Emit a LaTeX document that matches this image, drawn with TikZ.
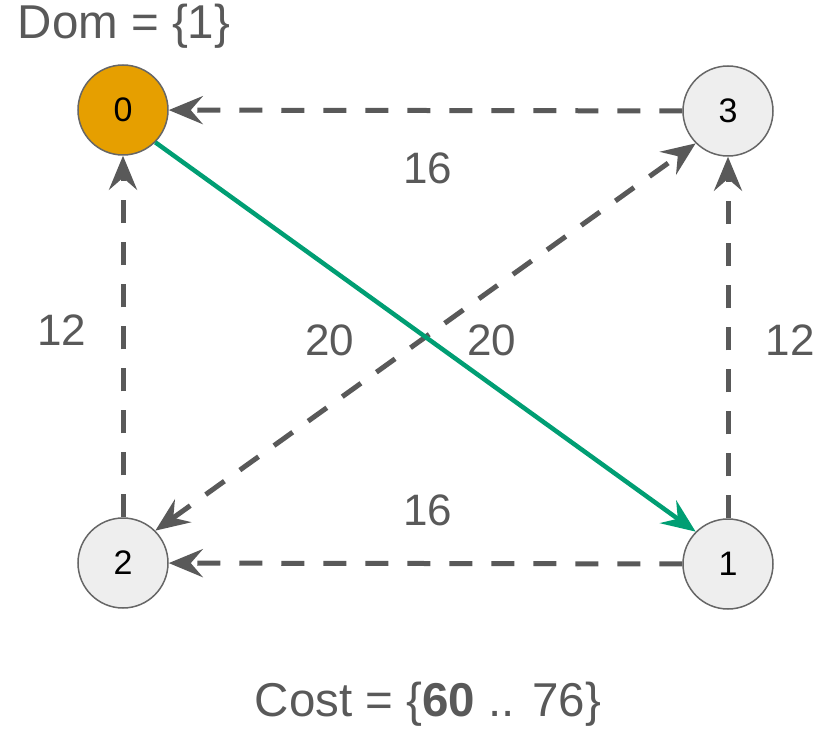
\documentclass[tikz,border=0pt]{standalone}
\usepackage{fontspec}
\setmainfont{Liberation Sans}
\usetikzlibrary{arrows.meta}
\definecolor{edgegray}{HTML}{595959}
\definecolor{nodefill}{HTML}{EEEEEE}
\definecolor{nodeline}{HTML}{666666}
\definecolor{domorange}{HTML}{E69F00}
\definecolor{pathgreen}{HTML}{009E73}
\tikzset{
  tip/.tip={Stealth[length=34pt,width=28pt,inset=12pt]},
  vertex/.style={circle, draw=nodeline, line width=1.5pt, fill=nodefill, minimum size=90pt, inner sep=0pt, font=\fontsize{34}{40}\selectfont, text=black},
  dashedge/.style={draw=edgegray, line width=5pt, dash pattern=on 23pt off 19pt, -tip},
  greenedge/.style={draw=pathgreen, line width=4.5pt, -tip},
  weight/.style={text=edgegray, font=\fontsize{44}{50}\selectfont, inner sep=0pt},
  caption/.style={text=edgegray, font=\fontsize{47.5}{54}\selectfont, inner sep=0pt}
}
\begin{document}
\begin{tikzpicture}[x=1pt,y=-1pt]
\useasboundingbox (0,0) rectangle (825,730);
\node[vertex, fill=domorange] (n0) at (123,110) {0};
\node[vertex] (n3) at (728,111) {3};
\node[vertex] (n2) at (123,563) {2};
\node[vertex] (n1) at (728,564) {1};
\draw[dashedge] (n3) -- (n0);
\draw[dashedge] (n2) -- (n0);
\draw[dashedge] (n1) -- (n3);
\draw[dashedge] (n1) -- (n2);
\draw[dashedge, tip-tip] (n2.45) -- (n3.225);
\draw[greenedge] (n0.315) -- (n1.135);
\node[weight] (w03) at (428,168) {16};
\node[weight] (w02) at (62,330) {12};
\node[weight] (w23) at (330,340) {20};
\node[weight] (w01) at (492,340) {20};
\node[weight] (w13) at (790,340) {12};
\node[weight] (w12) at (428,510) {16};
\node[caption] (dom) at (124,26) {Dom = \{1\}};
\node[caption] (cost) at (428,704) {Cost = \{\textbf{60} .. 76\}};
\end{tikzpicture}
\end{document}
